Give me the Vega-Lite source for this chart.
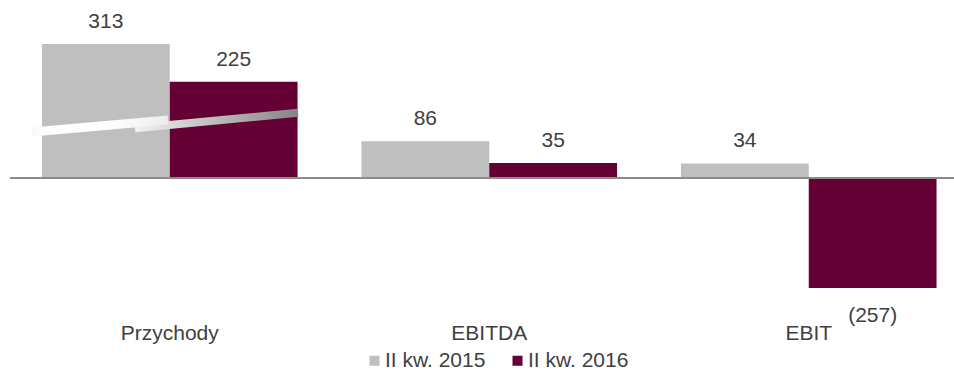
{
  "$schema": "https://vega.github.io/schema/vega-lite/v6.json",
  "width": 944,
  "height": 300,
  "autosize": {"type": "none"},
  "padding": {"left": 10, "top": 0, "right": 0, "bottom": 71},
  "config": {"view": {"stroke": null}, "font": "Liberation Sans, Arial, sans-serif"},
  "data": {"values": [
      {"cat": "Przychody", "series": "II kw. 2015", "value": 313, "label": "313"},
      {"cat": "Przychody", "series": "II kw. 2016", "value": 225, "label": "225"},
      {"cat": "EBITDA", "series": "II kw. 2015", "value": 86, "label": "86"},
      {"cat": "EBITDA", "series": "II kw. 2016", "value": 35, "label": "35"},
      {"cat": "EBIT", "series": "II kw. 2015", "value": 34, "label": "34"},
      {"cat": "EBIT", "series": "II kw. 2016", "value": -257, "label": "(257)"}
  ]},
  "layer": [
    {
      "mark": {"type": "bar"},
      "encoding": {
        "x": {
          "field": "cat", "type": "nominal",
          "scale": {"domain": ["Przychody", "EBITDA", "EBIT"], "range": [0, 958.5], "paddingInner": 0.2, "paddingOuter": 0.1},
          "axis": {"title": null, "domain": false, "ticks": false, "grid": false, "labelAngle": 0, "labelFontSize": 21, "labelColor": "#404040", "labelPadding": 22, "labelBaseline": "top"}
        },
        "xOffset": {"field": "series", "type": "nominal", "scale": {"domain": ["II kw. 2015", "II kw. 2016"]}},
        "y": {"field": "value", "type": "quantitative", "scale": {"domain": [-285, 416], "nice": false}, "axis": null},
        "color": {
          "field": "series", "type": "nominal",
          "scale": {"domain": ["II kw. 2015", "II kw. 2016"], "range": ["#bfbfbf", "#650035"]},
          "legend": {"orient": "none", "legendX": 354, "legendY": 350, "direction": "horizontal", "title": null, "symbolType": "square", "symbolSize": 100, "symbolStrokeWidth": 0, "labelFontSize": 21, "labelColor": "#404040", "labelOffset": 0, "columnPadding": 21, "padding": 0}
        }
      }
    },
    {
      "data": {"values": [
        {"piece": "B", "pos": 0.391, "level": 116.4},
        {"piece": "B", "pos": 0.9014, "level": 152.4}
      ]},
      "mark": {
        "type": "line", "strokeWidth": 8, "strokeCap": "butt",
        "stroke": {"gradient": "linear", "x1": 0, "y1": 0, "x2": 1, "y2": 0, "stops": [{"offset": 0, "color": "#f2f2f2"}, {"offset": 1, "color": "#858585"}]}
      },
      "encoding": {
        "x": {"field": "pos", "type": "quantitative", "scale": {"domain": [0, 3], "range": [0, 958.5]}, "axis": null},
        "y": {"field": "level", "type": "quantitative"}
      }
    },
    {
      "data": {"values": [
        {"piece": "A", "pos": 0.069, "level": 107.5},
        {"piece": "A", "pos": 0.4945, "level": 135.5}
      ]},
      "mark": {
        "type": "line", "strokeWidth": 9, "strokeCap": "butt",
        "stroke": {"gradient": "linear", "x1": 0, "y1": 0, "x2": 1, "y2": 0, "stops": [{"offset": 0, "color": "#f7f7f7"}, {"offset": 0.1, "color": "#ffffff"}, {"offset": 0.55, "color": "#ffffff"}, {"offset": 1, "color": "#ececec"}]}
      },
      "encoding": {
        "x": {"field": "pos", "type": "quantitative", "scale": {"domain": [0, 3], "range": [0, 958.5]}, "axis": null},
        "y": {"field": "level", "type": "quantitative"}
      }
    },
    {
      "transform": [{"filter": "datum.value >= 0"}],
      "mark": {"type": "text", "fontSize": 21, "color": "#404040", "baseline": "alphabetic", "dy": -16},
      "encoding": {
        "x": {"field": "cat", "type": "nominal", "scale": {"domain": ["Przychody", "EBITDA", "EBIT"], "range": [0, 958.5], "paddingInner": 0.2, "paddingOuter": 0.1}, "axis": null},
        "xOffset": {"field": "series", "type": "nominal", "scale": {"domain": ["II kw. 2015", "II kw. 2016"]}},
        "y": {"field": "value", "type": "quantitative"},
        "text": {"field": "label"}
      }
    },
    {
      "transform": [{"filter": "datum.value < 0"}],
      "mark": {"type": "text", "fontSize": 21, "color": "#404040", "baseline": "alphabetic", "dy": 34},
      "encoding": {
        "x": {"field": "cat", "type": "nominal", "scale": {"domain": ["Przychody", "EBITDA", "EBIT"], "range": [0, 958.5], "paddingInner": 0.2, "paddingOuter": 0.1}, "axis": null},
        "xOffset": {"field": "series", "type": "nominal", "scale": {"domain": ["II kw. 2015", "II kw. 2016"]}},
        "y": {"field": "value", "type": "quantitative"},
        "text": {"field": "label"}
      }
    },
    {
      "mark": {"type": "rule", "color": "#8c8c8c", "strokeWidth": 2},
      "encoding": {"y": {"datum": 0}}
    }
  ],
  "resolve": {"scale": {"x": "independent"}}
}
